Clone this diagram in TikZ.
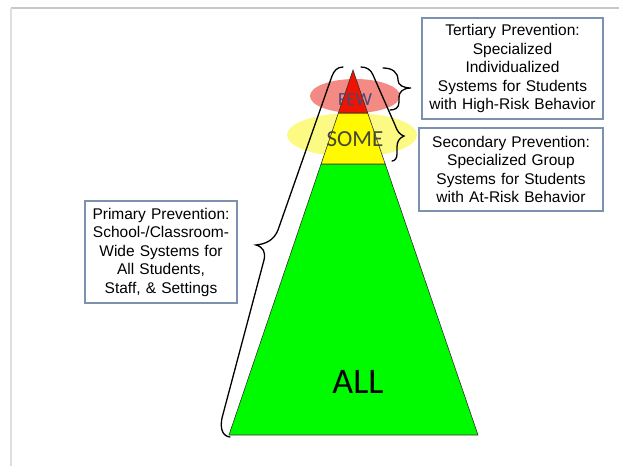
\documentclass[tikz,border=0pt]{standalone}
\usepackage{fontspec}
\setmainfont{Liberation Sans}
\newfontfamily\tierfont{Carlito}
\usepackage{tikz}

\definecolor{framegray}{RGB}{200,200,200}
\definecolor{boxblue}{RGB}{125,145,175}
\definecolor{allgreen}{RGB}{0,250,0}
\definecolor{fewred}{RGB}{240,20,0}
\definecolor{someyellow}{RGB}{255,250,0}
\definecolor{fewpink}{RGB}{244,138,132}
\definecolor{somepale}{RGB}{252,250,130}
\definecolor{fewblue}{RGB}{65,75,120}
\definecolor{somegray}{RGB}{70,70,60}

\tikzset{
  prevbox/.style={draw=boxblue, line width=1.3pt, fill=white, inner sep=0pt,
    align=center, font=\fontsize{15.5}{18.5}\selectfont},
  tierline/.style={draw=black!80, line width=0.6pt},
  bracket/.style={draw=black, line width=1.3pt, line cap=round},
}

\begin{document}
\begin{tikzpicture}[x=1pt,y=-1pt]
            \useasboundingbox (0,0) rectangle (619,466);
            \draw[framegray, line width=1.2pt] (11,8) -- (619,8) ;
            \draw[framegray!60, line width=1.6pt] (11,8) -- (11,466) ;
            \fill[fewpink] (355,96) ellipse (45 and 17) ;
            \fill[somepale] (352,135) ellipse (65 and 22) ;
            \filldraw[tierline, fill=allgreen] (321.1,164) -- (385.2,164) -- (478,435) -- (229,435) -- cycle ;
            \filldraw[tierline, fill=someyellow] (338.4,113) -- (367.7,113) -- (385.2,164) -- (321.1,164) -- cycle ;
            \filldraw[tierline, fill=fewred] (353,70) -- (367.7,113) -- (338.4,113) -- cycle ;
            \node[font=\tierfont\fontsize{18.5}{18.5}\selectfont, text=fewblue] (few) at (355,100) {FEW};
            \node[font=\tierfont\fontsize{23}{23}\selectfont, text=somegray] (some) at (355,139.5) {SOME};
            \node[font=\tierfont\fontsize{36}{36}\selectfont] (all) at (358,382) {ALL};
            \draw[bracket] (343,67) .. controls (337,67) and (334,71) .. (332,76) -- (278,230) .. controls (274,240) and (266,244) .. (256,245) .. controls (263,247) and (266,252) .. (264,260) -- (222,418) .. controls (220,428) and (222,436) .. (230,437) ;
            \draw[bracket] (361,67) .. controls (367,67) and (371,70) .. (373,75) -- (395,125) .. controls (397,131) and (400,135) .. (404,136) .. controls (399,138) and (397,142) .. (397,147) -- (397,154) .. controls (397,158) and (395,161) .. (392,161) ;
            \draw[bracket] (383,68) .. controls (392,68) and (398,72) .. (398,80) .. controls (398,85) and (403,88) .. (411,88) .. controls (403,88) and (399,92) .. (399,97) -- (399,102) .. controls (399,108) and (395,110) .. (390,110) ;
            \node[prevbox, minimum width=181pt, minimum height=101pt, text width=181pt] (tertiary) at (512.5,68.5) {Tertiary Prevention:\\ Specialized\\ Individualized\\ Systems for Students\\ with High-Risk Behavior};
            \node[prevbox, minimum width=184pt, minimum height=83pt, text width=184pt] (secondary) at (511,169.5) {Secondary Prevention:\\ Specialized Group\\ Systems for Students\\ with At-Risk Behavior};
            \node[prevbox, minimum width=152pt, minimum height=102pt, text width=152pt] (primary) at (161,252) {Primary Prevention:\\ School-/Classroom-\\ Wide Systems for\\ All Students,\\ Staff, \& Settings};
        \end{tikzpicture}
\end{document}
